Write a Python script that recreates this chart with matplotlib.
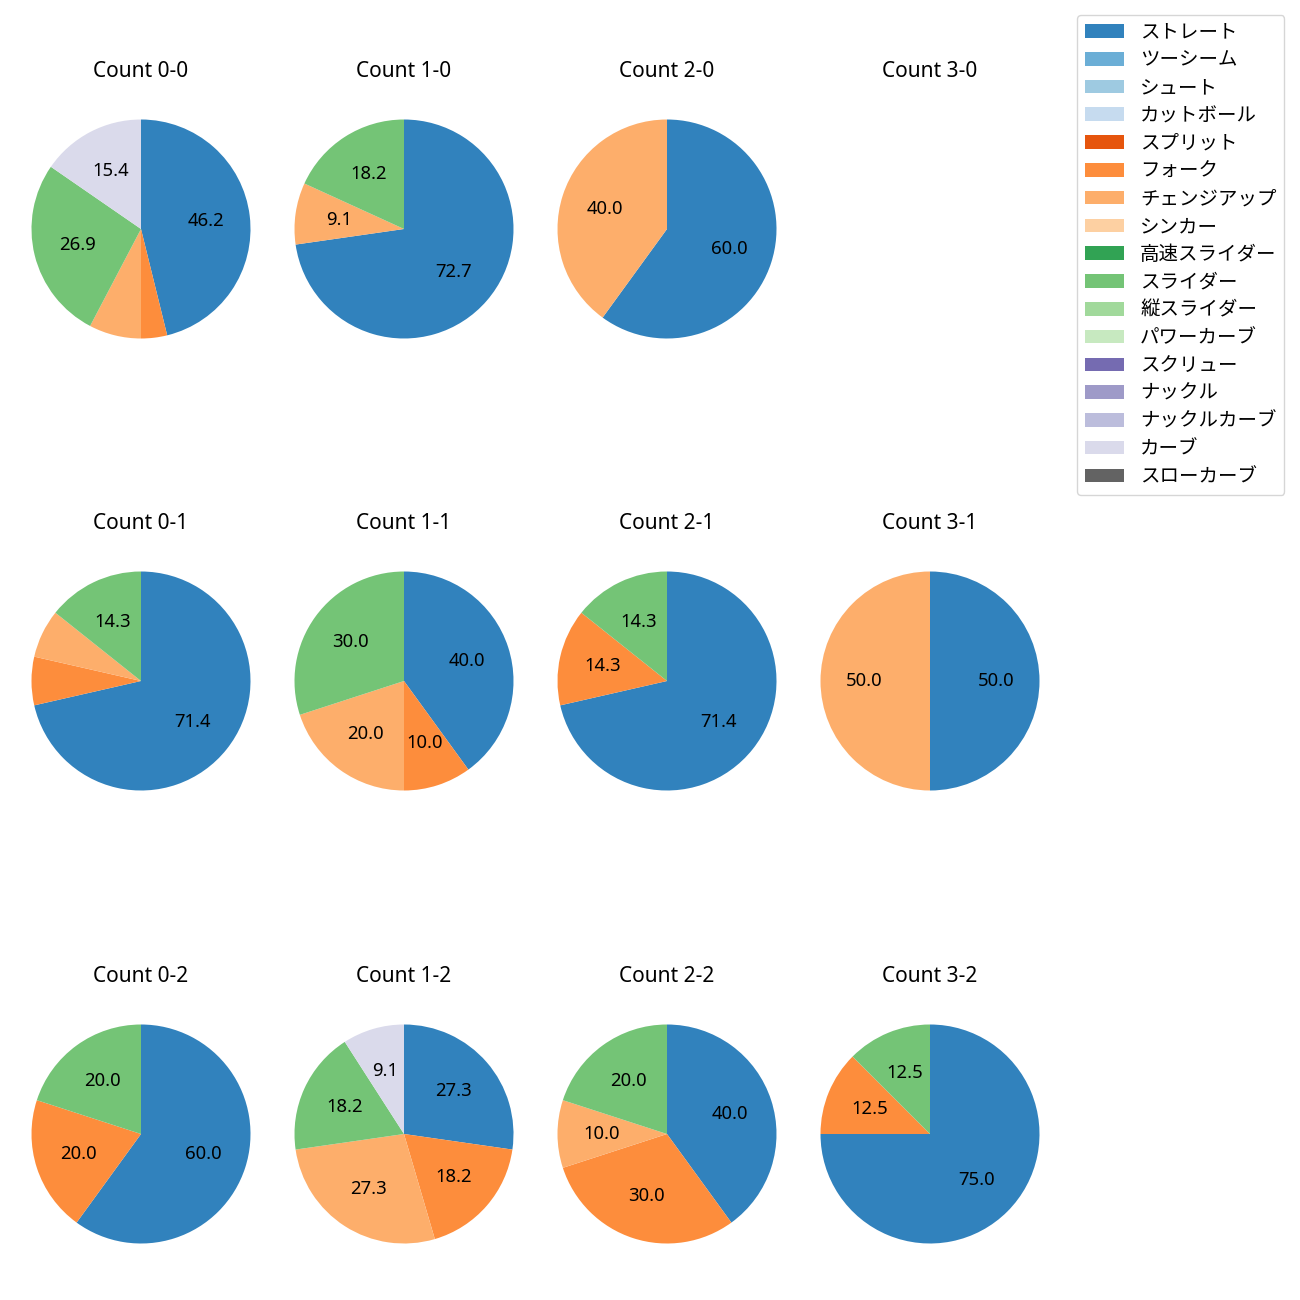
import matplotlib
matplotlib.use("Agg")
import matplotlib.pyplot as plt
from matplotlib.patches import Patch
import numpy as np

plt.rcParams['font.family'] = ['Noto Sans', 'Noto Sans CJK JP', 'DejaVu Sans']

pitch_types = ['ストレート', 'ツーシーム', 'シュート', 'カットボール', 'スプリット', 'フォーク',
               'チェンジアップ', 'シンカー', '高速スライダー', 'スライダー', '縦スライダー',
               'パワーカーブ', 'スクリュー', 'ナックル', 'ナックルカーブ', 'カーブ', 'スローカーブ']

counts = ['0-0', '1-0', '2-0', '3-0',
          '0-1', '1-1', '2-1', '3-1',
          '0-2', '1-2', '2-2', '3-2']

# pitch counts per type
data = {
    '0-0': {'ストレート': 12, 'フォーク': 1, 'チェンジアップ': 2, 'スライダー': 7, 'カーブ': 4},
    '1-0': {'ストレート': 8, 'チェンジアップ': 1, 'スライダー': 2},
    '2-0': {'ストレート': 3, 'チェンジアップ': 2},
    '3-0': {},
    '0-1': {'ストレート': 10, 'フォーク': 1, 'チェンジアップ': 1, 'スライダー': 2},
    '1-1': {'ストレート': 4, 'フォーク': 1, 'チェンジアップ': 2, 'スライダー': 3},
    '2-1': {'ストレート': 5, 'フォーク': 1, 'スライダー': 1},
    '3-1': {'ストレート': 1, 'チェンジアップ': 1},
    '0-2': {'ストレート': 3, 'フォーク': 1, 'スライダー': 1},
    '1-2': {'ストレート': 3, 'フォーク': 2, 'チェンジアップ': 3, 'スライダー': 2, 'カーブ': 1},
    '2-2': {'ストレート': 4, 'フォーク': 3, 'チェンジアップ': 1, 'スライダー': 2},
    '3-2': {'ストレート': 6, 'フォーク': 1, 'スライダー': 1},
}

cmap = plt.get_cmap('tab20c')
colors = {p: cmap(i) for i, p in enumerate(pitch_types)}

W = H = 1300
fig = plt.figure(figsize=(13, 13), dpi=100)

col_cx = [141, 404, 667, 930]
row_cy = [229, 681, 1134]
R = 109.5
side = 2.5 * R

for idx, c in enumerate(counts):
    r, k = divmod(idx, 4)
    cx, cy = col_cx[k], row_cy[r]
    ax = fig.add_axes([(cx - side / 2) / W, 1 - (cy + side / 2) / H, side / W, side / H])
    ax.set_title(f'Count {c}', fontsize=15, pad=11)
    d = data[c]
    labels = [p for p in pitch_types if d.get(p, 0) > 0]
    vals = [d[p] for p in labels]
    if vals:
        ax.pie(vals, colors=[colors[p] for p in labels], startangle=90, counterclock=False,
               autopct=lambda pct: f'{pct:.1f}' if pct > 8 else '', pctdistance=0.6,
               textprops={'fontsize': 13.3})
    else:
        ax.axis('off')
    ax.set_aspect('equal')

handles = [Patch(facecolor=colors[p]) for p in pitch_types]
fig.legend(handles, pitch_types, loc='upper left', bbox_to_anchor=(1077 / W, 1 - 15 / H),
           borderaxespad=0, fontsize=14, labelspacing=0.4, handletextpad=0.85)

fig.savefig('out.png', dpi=100)
